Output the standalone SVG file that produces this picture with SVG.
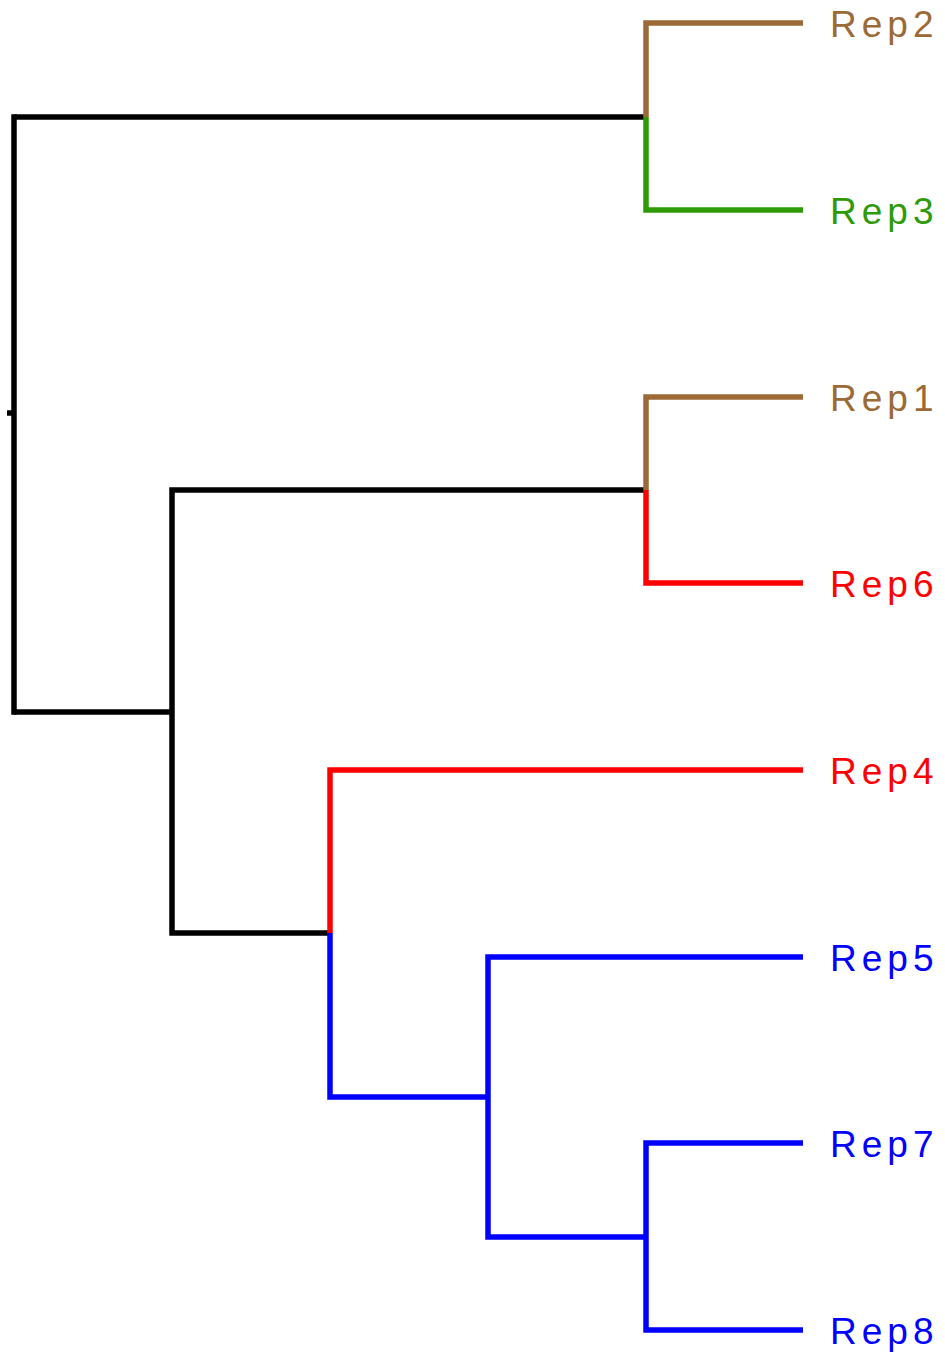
<svg xmlns="http://www.w3.org/2000/svg" width="945" height="1353" viewBox="0 0 945 1353">
  <style>
    .br { fill: none; stroke-width: 5.5; stroke-linecap: butt; stroke-linejoin: miter; }
    .k { stroke: #000000; }
    .brown { stroke: #9b6a36; }
    .green { stroke: #2e9a06; }
    .red { stroke: #ff0000; }
    .blue { stroke: #0000ff; }
    .lbl { font-family: "Liberation Sans", Arial, sans-serif; font-size: 37px; letter-spacing: 5px; }
  </style>
  <rect width="945" height="1353" fill="#ffffff"/>
  <g id="connectors">
    <!-- root -->
    <path class="br k" d="M7,413 H14 M14,114.25 V714.75"/>
    <!-- upper clade -->
    <path class="br k" d="M14,117 H646"/>
    <path class="br brown" d="M646,117 V23 H803"/>
    <path class="br green" d="M646,117 V210 H803"/>
    <!-- lower clade -->
    <path class="br k" d="M14,712 H172 M172,487.25 V935.75 M172,490 H646 M172,933 H330"/>
    <path class="br brown" d="M646,490 V397 H803"/>
    <path class="br red" d="M646,490 V583 H803"/>
    <path class="br red" d="M330,933 V770 H803"/>
    <path class="br blue" d="M330,933 V1097 H488 M488,954.25 V1239.75 M488,957 H803 M488,1237 H646 M646,1140.25 V1332.75 M646,1143 H803 M646,1330 H803"/>
  </g>
  <g id="Rep2"><text class="lbl" x="830" y="37" fill="#9b6a36">Rep2</text></g>
  <g id="Rep3"><text class="lbl" x="830" y="224" fill="#2e9a06">Rep3</text></g>
  <g id="Rep1"><text class="lbl" x="830" y="411" fill="#9b6a36">Rep1</text></g>
  <g id="Rep6"><text class="lbl" x="830" y="597" fill="#ff0000">Rep6</text></g>
  <g id="Rep4"><text class="lbl" x="830" y="784" fill="#ff0000">Rep4</text></g>
  <g id="Rep5"><text class="lbl" x="830" y="971" fill="#0000ff">Rep5</text></g>
  <g id="Rep7"><text class="lbl" x="830" y="1157" fill="#0000ff">Rep7</text></g>
  <g id="Rep8"><text class="lbl" x="830" y="1344" fill="#0000ff">Rep8</text></g>
</svg>
